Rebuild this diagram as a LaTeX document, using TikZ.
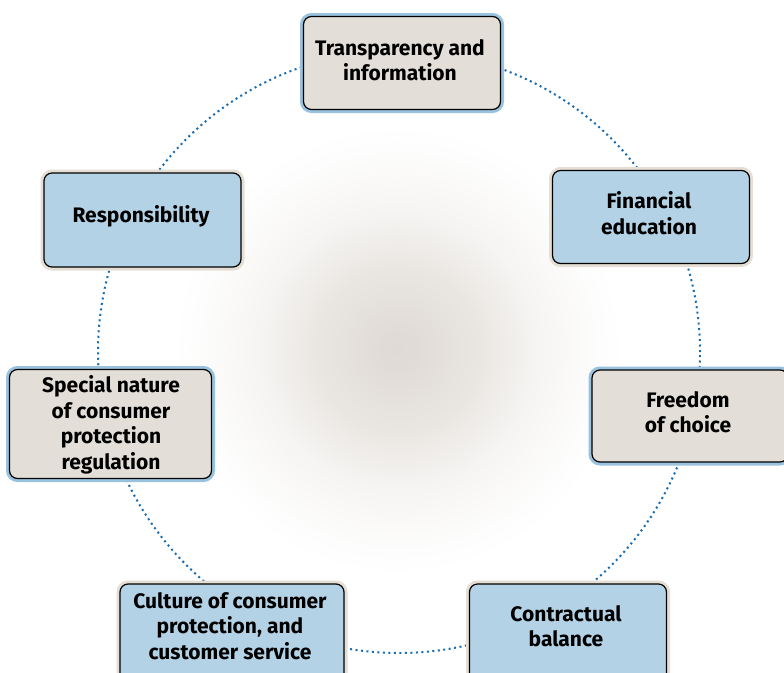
\documentclass[tikz,border=0pt]{standalone}
\usepackage{fontspec}
\setmainfont{Fira Sans}
\definecolor{grayfill}{RGB}{227,222,215}
\definecolor{blueedge}{RGB}{152,194,222}
\definecolor{bluefill}{RGB}{180,210,230}
\definecolor{beigeedge}{RGB}{228,222,212}
\definecolor{dotblue}{RGB}{24,108,176}
\definecolor{glow}{RGB}{223,218,212}
\pgfdeclareradialshading{centreglow}{\pgfpoint{0bp}{0bp}}{%
  color(0bp)=(glow); color(1.2bp)=(glow!96!white); color(4.8bp)=(glow!68!white);
  color(8.3bp)=(glow!28!white); color(11.9bp)=(glow!6!white); color(13.4bp)=(white);
  color(50bp)=(white)}
\begin{document}
\begin{tikzpicture}[x=1pt,y=-1pt,
  boxg/.style={draw=black, line width=1.2pt, fill=grayfill, rounded corners=8pt,
    preaction={draw=blueedge, line width=7pt, rounded corners=8pt}},
  boxb/.style={draw=black, line width=1.2pt, fill=bluefill, rounded corners=8pt,
    preaction={draw=beigeedge, line width=7pt, rounded corners=8pt}},
  lbl/.style={font=\bfseries\fontsize{21}{25.5}\selectfont, align=center, inner sep=0pt},
  ring/.style={draw=dotblue, line width=2pt, dash pattern=on 2pt off 3.5pt}]
\useasboundingbox (0,0) rectangle (784,672);
\fill[white] (0,0) rectangle (784,672);
\begin{scope}
\clip (0,0) rectangle (784,672);
\shade[shading=centreglow] (398,350) circle (420pt);
\end{scope}
\coordinate (c) at (399,352);
\draw[ring] (c) circle (301pt);
% boxes
\node[boxg, minimum width=197pt, minimum height=93pt] (tb) at (402,63) {};
\node[boxb, minimum width=197pt, minimum height=93pt] (fb) at (651,217) {};
\node[boxb, minimum width=197pt, minimum height=94pt] (rb) at (142.5,220) {};
\node[boxg, minimum width=202pt, minimum height=109pt] (sb) at (110.5,424) {};
\node[boxg, minimum width=196pt, minimum height=92pt] (frb) at (690,416) {};
\node[boxb, minimum width=224pt, minimum height=116pt] (cb) at (232,642) {};
\node[boxb, minimum width=197pt, minimum height=116pt] (kb) at (568,642) {};
% labels
\node[lbl] (tl) at (400,60) {Transparency and\\information};
\node[lbl] (fl) at (649,213) {Financial\\education};
\node[lbl] (rl) at (141,216) {Responsibility};
\node[lbl] (sl) at (111,425) {Special nature\\of consumer\\protection\\regulation};
\node[lbl] (frl) at (688,412) {Freedom\\of choice};
\node[lbl] (cl) at (230,626) {Culture of consumer\\protection, and\\customer service};
\node[lbl] (kl) at (566,626) {Contractual\\balance};
\end{tikzpicture}
\end{document}
